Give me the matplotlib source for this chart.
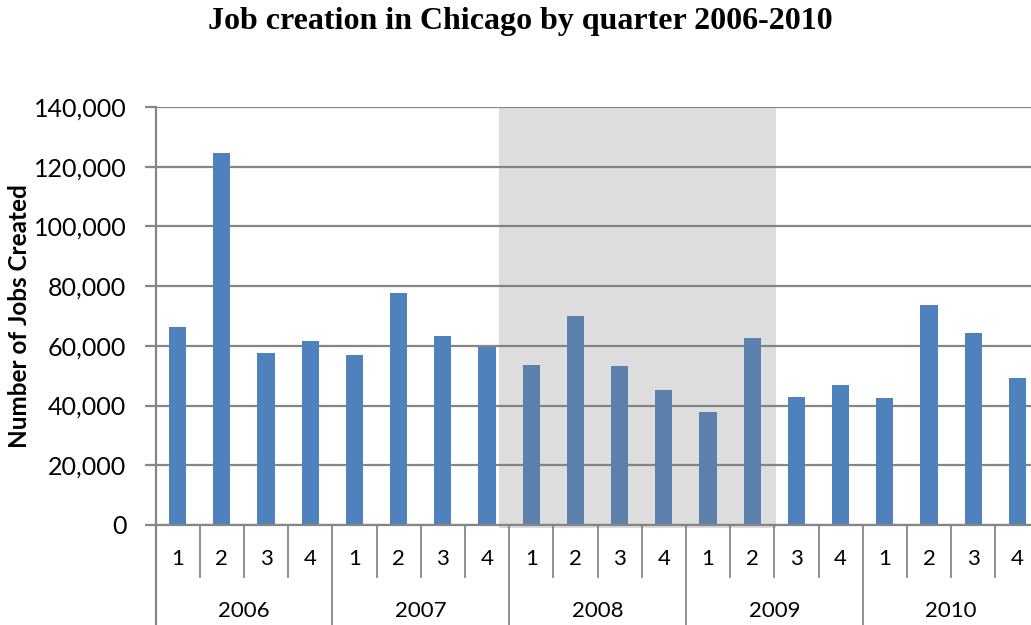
import numpy as np
import matplotlib.pyplot as plt
from matplotlib.ticker import FuncFormatter

# quarterly job creation, Chicago
years = ['2006', '2007', '2008', '2009', '2010']
quarters = ['1', '2', '3', '4']
jobs = [66300, 124600, 57600, 61600,
        56900, 77700, 63300, 59600,
        53600, 70000, 53400, 45200,
        37900, 62500, 43000, 46900,
        42400, 73700, 64400, 49200]
# recession band, in bar-index units
recession = (7.27, 13.54)

W, H = 1031, 625
fig = plt.figure(figsize=(W / 100, H / 100), dpi=100)
ax = fig.add_axes([155.5 / W, (H - 525) / H, (1039.5 - 155.5) / W, (525 - 107) / H])

x = np.arange(len(jobs))
ax.bar(x, jobs, width=0.39, color='#4F81BD', zorder=2)
ax.axvspan(recession[0], recession[1], ymin=-0.007, ymax=1.0, color='#7e7e7e',
           alpha=0.26, lw=0, zorder=3, clip_on=False)

ax.set_xlim(-0.5, len(jobs) - 0.5)
ax.set_ylim(0, 140000)
ax.set_yticks(np.arange(0, 140001, 20000))
ax.yaxis.set_major_formatter(FuncFormatter(lambda v, p: f'{int(v):,}'))
ax.grid(axis='y', color='#868686', lw=1.6, zorder=1)
ax.set_axisbelow(True)
for s in ['top', 'right', 'bottom']:
    ax.spines[s].set_visible(False)
ax.spines['left'].set_color('#868686')
ax.spines['left'].set_linewidth(1.6)
ax.tick_params(axis='y', length=8, width=1.6, color='#868686', labelsize=18, pad=13)
for lab in ax.get_yticklabels():
    lab.set_fontfamily('Lato')

# two-level category axis drawn by hand
ax.set_xticks([])
tr = ax.get_xaxis_transform()
ax.plot([-0.5, len(jobs) - 0.5], [0, 0], transform=tr, color='#868686', lw=1.6,
        clip_on=False, zorder=4)
for i in range(1, len(jobs)):
    low = -0.24 if i % 4 == 0 else -0.124
    ax.plot([i - 0.5, i - 0.5], [0, low], transform=tr, color='#868686', lw=1.3,
            clip_on=False)
ax.plot([-0.5, -0.5], [0, -0.24], transform=tr, color='#868686', lw=1.6, clip_on=False)
for i in range(len(jobs)):
    ax.text(i, -0.082, quarters[i % 4], transform=tr, ha='center', va='center',
            fontsize=16, family='Lato')
for k, yr in enumerate(years):
    ax.text(4 * k + 1.5, -0.205, yr, transform=tr, ha='center', va='center',
            fontsize=16, family='Lato')

fig.text(20 / W, 1 - 316 / H, 'Number of Jobs Created', rotation=90, ha='center',
         va='center', fontsize=17.5, fontweight='bold', family='Lato')
fig.text(520 / W, 1 - 22 / H, 'Job creation in Chicago by quarter 2006-2010',
         ha='center', va='center', fontsize=23, fontweight='bold',
         family='Liberation Serif')

fig.savefig('out.png', dpi=100)
